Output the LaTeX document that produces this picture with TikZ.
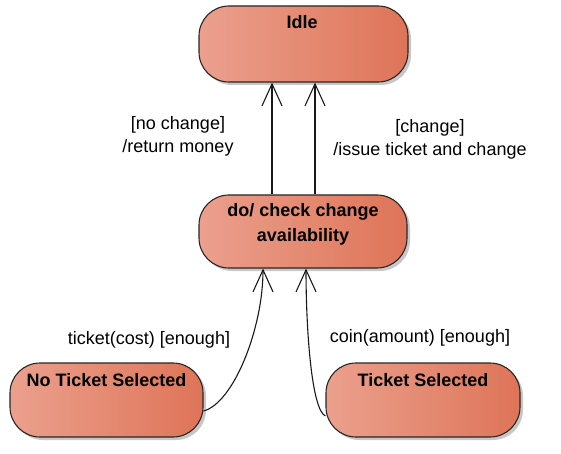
\documentclass[tikz,border=0pt]{standalone}
\usepackage{fontspec}
\setmainfont{Liberation Sans}
\usetikzlibrary{arrows.meta,shadows}
\definecolor{sLeft}{RGB}{235,160,141}
\definecolor{sRight}{RGB}{222,116,88}
\begin{document}
\begin{tikzpicture}[x=1pt,y=-1pt,
  statebox/.style={draw=black!85, line width=1.1pt, rounded corners=30pt,
    left color=sLeft, right color=sRight, inner sep=0pt,
    drop shadow={shadow xshift=3pt,shadow yshift=-3pt,opacity=0.22,fill=black}},
  stitle/.style={font=\bfseries\fontsize{18}{25}\selectfont, align=center, inner sep=0pt},
  elabel/.style={font=\fontsize{18}{23}\selectfont, align=center, inner sep=0pt},
  trans/.style={line width=1.1pt, draw=black!90, -{Straight Barb[length=22pt,width=20pt,line width=1.1pt]}}]
\useasboundingbox (0,0) rectangle (561,454);
\node[statebox, minimum width=209pt, minimum height=76pt] (idle) at (303.5,44) {};
\node[stitle] (idleT) at (302,22) {Idle};
\node[statebox, minimum width=208pt, minimum height=73pt] (mid) at (303,231.5) {};
\node[stitle] (midT) at (303,224) {do/ check change\\availability};
\node[statebox, minimum width=193pt, minimum height=74pt] (ntl) at (106.5,400) {};
\node[stitle] (ntlT) at (106.5,380) {No Ticket Selected};
\node[statebox, minimum width=194pt, minimum height=74pt] (tsel) at (423,400) {};
\node[stitle] (tselT) at (423,380) {Ticket Selected};
\draw[trans] ([xshift=-31pt]mid.north) -- ([xshift=-31pt]mid.north |- idle.south);
\draw[trans] ([xshift=12pt]mid.north) -- ([xshift=12pt]mid.north |- idle.south);
\draw[trans] ([yshift=-11pt]ntl.east) .. controls +(30,-8) and +(0,60) .. ([xshift=-40pt]mid.south);
\draw[trans] ([yshift=-16pt]tsel.west) .. controls +(-14,-6) and +(0,60) .. ([xshift=3pt]mid.south);
\node[elabel] (l1) at (178,136) {[no change]\\/return money};
\node[elabel] (l2) at (430,139) {[change]\\/issue ticket and change};
\node[elabel] (l3) at (149,340) {ticket(cost) [enough]};
\node[elabel] (l4) at (420,338) {coin(amount) [enough]};
\end{tikzpicture}
\end{document}
